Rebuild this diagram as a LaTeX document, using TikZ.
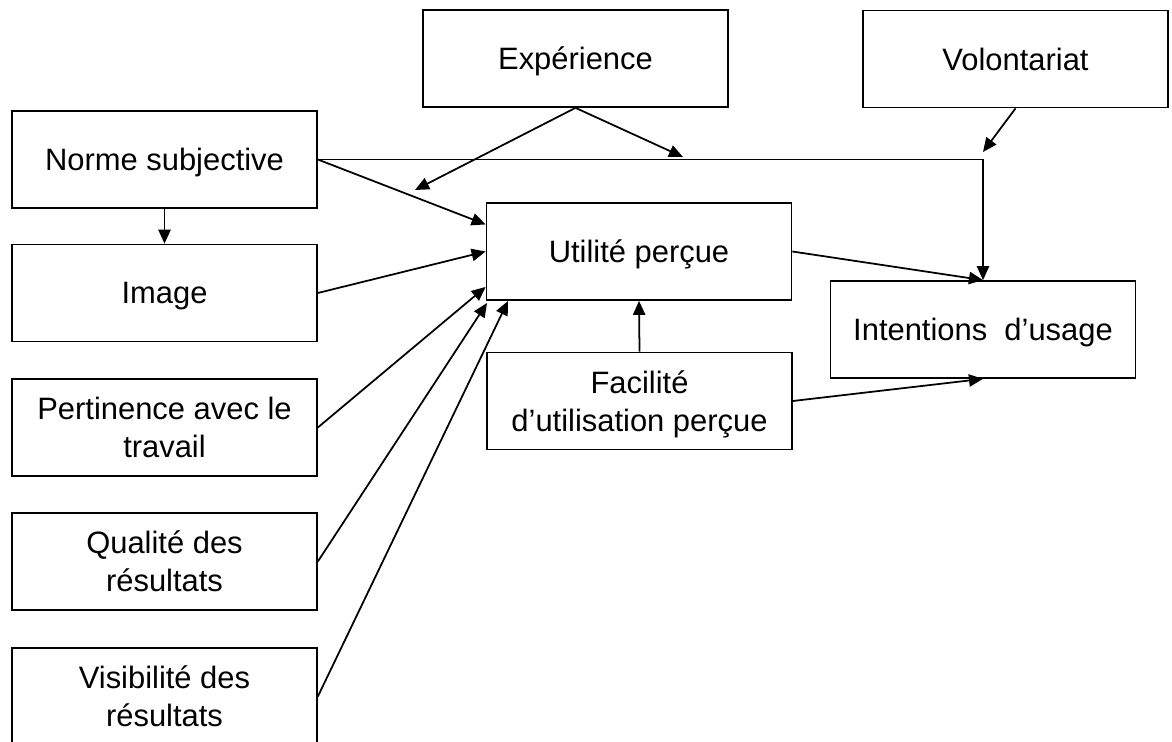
\documentclass[tikz,border=0pt]{standalone}
\usepackage{fontspec}
\setmainfont{Liberation Sans}
\usetikzlibrary{arrows.meta}

\begin{document}
\begin{tikzpicture}[x=0.02cm, y=-0.02cm,
    boite/.style={draw, rectangle, line width=1pt, minimum width=6.1cm, minimum height=1.94cm, align=center, inner sep=2pt, text depth=0pt, font=\fontsize{17.6}{21.5}\selectfont},
    fleche/.style={line width=1pt, -{Triangle[length=8pt, width=7pt]}}]
    \clip (0, 0) rectangle (1172, 742);

    % Facteurs en haut
    \node[boite] (expe) at (575.5, 58.5) {Expérience};
    \node[boite] (volo) at (1015.5, 59) {Volontariat};

    % Facteurs a gauche
    \node[boite] (norme) at (164.5, 159.5) {Norme subjective};
    \node[boite] (image) at (164.5, 293) {Image};
    \node[boite] (perti) at (164.5, 427.5) {Pertinence avec le\\travail};
    \node[boite] (quali) at (164.5, 561.5) {Qualité des\\résultats};
    \node[boite] (visi) at (164.5, 696.5) {Visibilité des\\résultats};

    % Centre
    \node[boite] (util) at (639, 251.5) {Utilité perçue};
    \node[boite] (faci) at (639.5, 401) {Facilité\\d’utilisation perçue};
    \node[boite] (inten) at (983, 329.5) {Intentions\ \ d’usage};

    % bouts libres des fleches
    \coordinate (modA) at (415, 190);
    \coordinate (modB) at (683, 157);
    \coordinate (modC) at (983, 152);
    \coordinate (qtip) at (487, 303);
    \coordinate (vtip) at (508, 301);

    \draw[fleche] (expe.south) -- (modA);
    \draw[fleche] (expe.south) -- (modB);
    \draw[fleche] (volo.south) -- (modC);
    \draw[fleche] (norme.east) -| (inten.north);
    \draw[fleche] (norme.east) -- (util.170);
    \draw[fleche] (norme.south) -- (image.north);
    \draw[fleche] (image.east) -- (util.west);
    \draw[fleche] (perti.east) -- (util.193);
    \draw[fleche] (quali.east) -- (qtip);
    \draw[fleche] (visi.east) -- (vtip);
    \draw[fleche] (faci.north) -- (util.south);
    \draw[fleche] (util.east) -- (inten.north);
    \draw[fleche] (faci.east) -- (inten.south);
\end{tikzpicture}
\end{document}
